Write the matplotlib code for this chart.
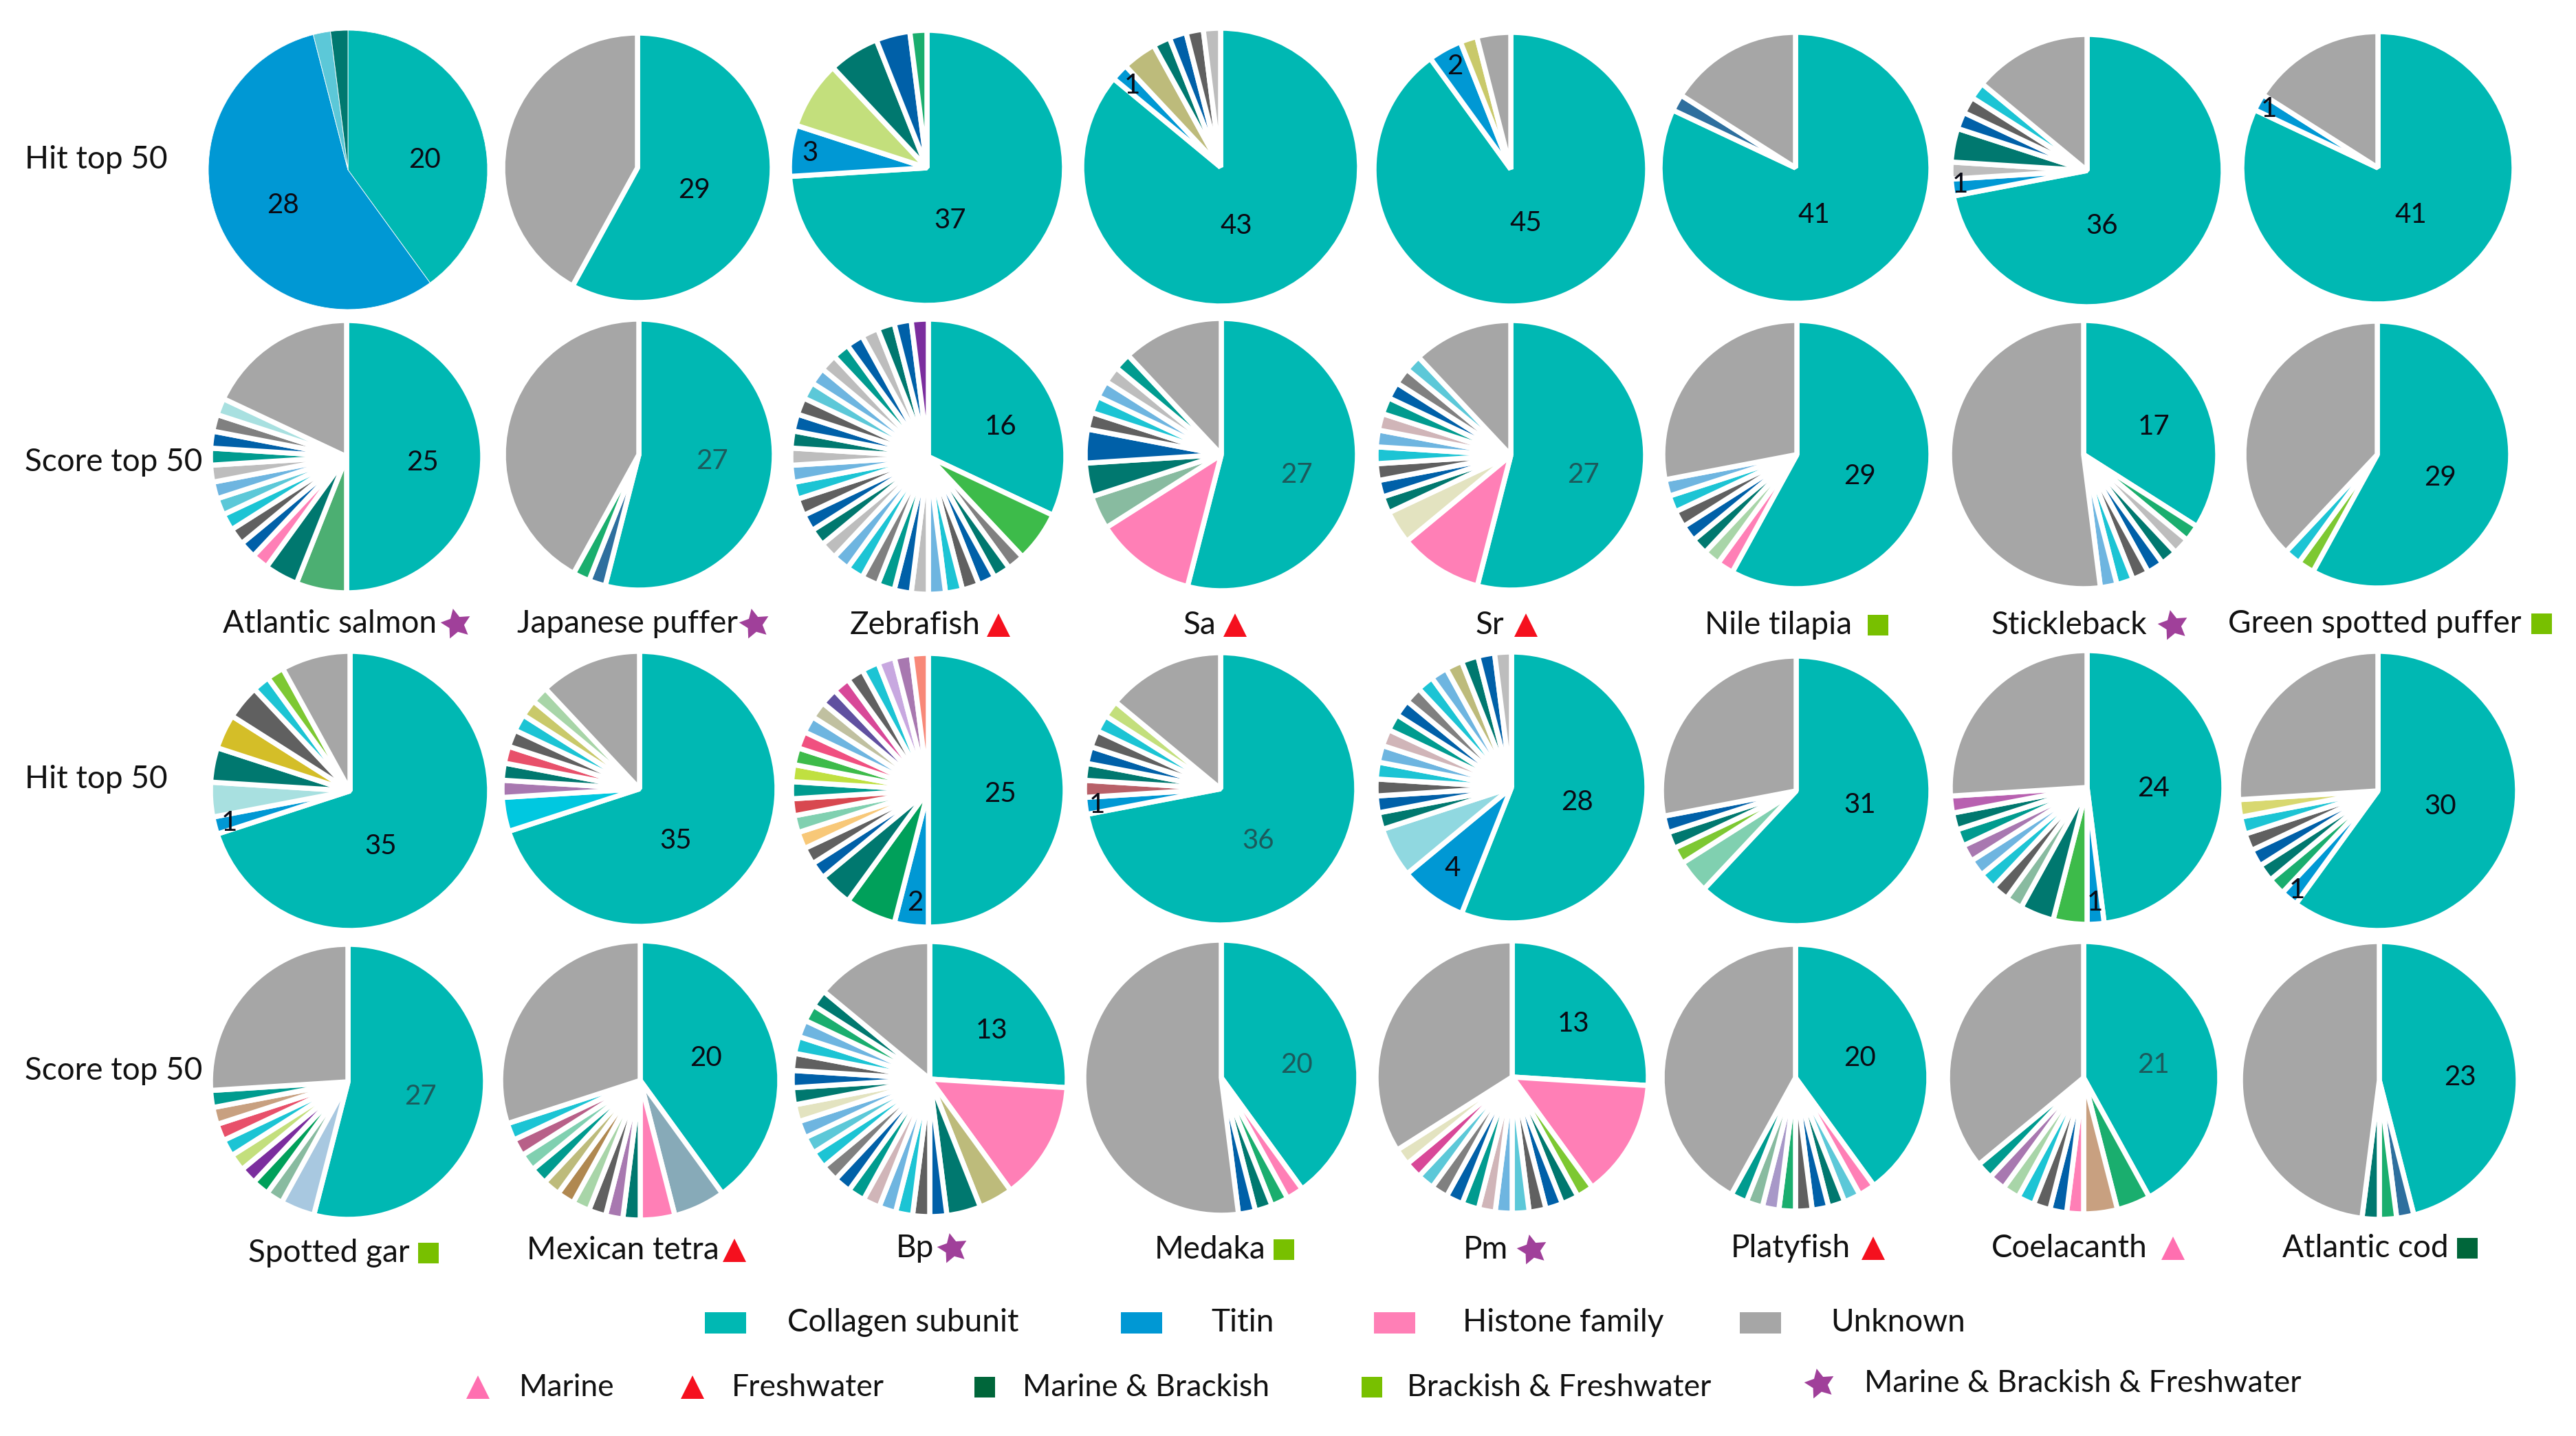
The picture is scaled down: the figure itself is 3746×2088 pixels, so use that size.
import matplotlib
matplotlib.use('Agg')
import matplotlib.pyplot as plt

W, H = 3746, 2088
plt.rcParams['font.family'] = ['Lato', 'DejaVu Sans']

# kleuren per letter
palette = {
    'T': '#00B8B3', 'B': '#0098D4', 'P': '#FF7FB6', 'U': '#A6A6A6',
    'd': '#00786F', 'b': '#0060A8', 'g': '#606060', 'c': '#1CC4D4',
    'l': '#6EB5E0', 's': '#BDBDBD', 't': '#009B8F', 'm': '#808080',
    'a': '#A8E0E0', 'q': '#5CC8D8', 'n': '#1AAE6E', 'e': '#C3DF7C',
    'k': '#BDBB7B', 'y': '#C9C96A', 'h': '#2E6F9E', 'G': '#3DBB4A',
    'S': '#4CAF72', 'v': '#7B2D9E', 'r': '#D0B5B8', 'w': '#88BBA0',
    'i': '#E3E3C0', 'f': '#A8D5A8', 'M': '#D4BE28', 'o': '#F8C878',
    'R': '#D84850', 'Y': '#C0E040', 'E': '#F05080', 'K': '#C0C0A0',
    'I': '#6050A0', 'A': '#D84898', 'L': '#C8A8E0', 'V': '#A878B0',
    'N': '#F88878', 'D': '#00A05A', 'C': '#00C8E0', 'X': '#90D8E0',
    'W': '#80D0B0', 'J': '#7DC832', 'O': '#B86068', 'Q': '#B860B0',
    'H': '#D8D870', 'Z': '#87AAB8', 'F': '#C8A080', 'x': '#B08850',
    'z': '#B86088', 'j': '#A898C8', 'p': '#E8506A', 'u': '#A8C8E0',
}

# rij 1: hit top 50
salmon_hit = [20, 28, 1, 1]
puffer_hit = [29, 21]
zebra_hit = [37, 3, 4, 3, 2, 1]
sa_hit = [43, 1, 2, 1, 1, 1, 1]
sr_hit = [45, 2, 1, 2]
tilapia_hit = [41, 1, 8]
stickle_hit = [36, 1, 1, 2, 1, 1, 1, 7]
green_hit = [41, 1, 8]
row1_colors = ['TBqd', 'TU', 'TBedbn', 'TBkdbgs', 'TByU', 'ThU', 'TBsdbgcU', 'TBU']

# rij 2: score top 50
salmon_score = [25, 3, 2, 1, 1, 1, 1, 1, 1, 1, 1, 1, 1, 1, 9]
puffer_score = [27, 1, 1, 21]
zebra_score = [16, 3] + [1] * 31
sa_score = [27, 6, 2, 2, 2, 1, 1, 1, 1, 1, 6]
sr_score = [27, 5, 2, 1, 1, 1, 1, 1, 1, 1, 1, 1, 1, 6]
tilapia_score = [29, 1, 1, 1, 1, 1, 1, 1, 14]
stickle_score = [17, 1, 1, 1, 1, 1, 1, 1, 26]
green_score = [29, 1, 1, 19]
row2_colors = ['TSdPbgcqlstbmaU', 'ThnU', 'TGmdbgclsbtmclsdbgclsdbgqlstbsdbv',
               'TPwdbgclstU', 'TPidbgclrtbmqU', 'TPfdbgclU', 'TnsdbgclU', 'TJcU']

# rij 3: hit top 50
gar_hit = [35, 1, 2, 2, 2, 2, 1, 1, 4]
tetra_hit = [35, 2, 1, 1, 1, 1, 1, 1, 1, 6]
bp_hit = [25, 2, 3, 2] + [1] * 18
medaka_hit = [36, 1, 1, 1, 1, 1, 1, 1, 7]
pm_hit = [28, 4, 3] + [1] * 14 + [1]
platy_hit = [31, 2, 1, 1, 1, 14]
coel_hit = [24, 1, 2, 2, 1, 1, 1, 1, 1, 1, 1, 1, 13]
cod_hit = [30, 1, 1, 1, 1, 1, 1, 1, 13]
row3_colors = ['TBadMgcJU', 'TCVdpgcyfU', 'TBDdbgoWRtYGElKIAgcLVN', 'TBOdbgceU',
               'TBXdbgclrtbmclkdbs', 'TWJdbU', 'TBGdwgclVtdQU', 'TBndbgcHU']

# rij 4: score top 50
gar_score = [27, 2, 1, 1, 1, 1, 1, 1, 1, 1, 13]
tetra_score = [20, 3, 2, 1, 1, 1, 1, 1, 1, 1, 1, 1, 1, 15]
bp_score = [13, 7, 2, 2] + [1] * 19 + [7]
medaka_score = [20, 1, 1, 1, 1, 26]
pm_score = [13, 7] + [1] * 13 + [17]
platy_score = [20] + [1] * 9 + [21]
coel_score = [21, 2, 2, 1, 1, 1, 1, 1, 1, 1, 18]
cod_score = [23, 1, 1, 1, 24]
row4_colors = ['TuwDvecpFtU', 'TZPdVgfxktWzcU', 'TPkdbgclrtbmcqlidbgclndU', 'TPndbU',
               'TPJdbgqlrtbmqAiU', 'TPqdbgnjwtU', 'TnFPbgcfVtU', 'ThndU']

all_values = [
    salmon_hit, puffer_hit, zebra_hit, sa_hit, sr_hit, tilapia_hit, stickle_hit, green_hit,
    salmon_score, puffer_score, zebra_score, sa_score, sr_score, tilapia_score, stickle_score, green_score,
    gar_hit, tetra_hit, bp_hit, medaka_hit, pm_hit, platy_hit, coel_hit, cod_hit,
    gar_score, tetra_score, bp_score, medaka_score, pm_score, platy_score, coel_score, cod_score,
]
all_colors = row1_colors + row2_colors + row3_colors + row4_colors

# midden en straal van elke taart, in pixels
pie_x = [506, 927, 1348, 1775, 2197, 2611, 3035, 3458,
         504, 929, 1350, 1776, 2197, 2613, 3030, 3457,
         509, 930, 1350, 1775, 2198, 2612, 3035, 3458,
         506, 931, 1352, 1776, 2199, 2611, 3030, 3460]
pie_y = [247, 244, 244, 243, 246, 244, 248, 244,
         664, 661, 664, 661, 662, 661, 661, 661,
         1150, 1147, 1149, 1147, 1145, 1150, 1145, 1150,
         1573, 1571, 1569, 1567, 1566, 1567, 1567, 1571]
pie_r = [200, 193, 197, 199, 196, 194, 195, 195,
         195, 194, 197, 195, 193, 192, 192, 191,
         200, 197, 196, 195, 194, 193, 196, 200,
         197, 200, 197, 197, 195, 191, 195, 199]

# getallen in de taarten
label_text = ['20', '28', '29', '37', '3', '43', '1', '45', '2', '41', '36', '1', '41', '1',
              '25', '27', '16', '27', '27', '29', '17', '29',
              '35', '1', '35', '25', '2', '36', '1', '28', '4', '31', '24', '1', '30', '1',
              '27', '20', '13', '20', '13', '20', '21', '23']
label_x = [618, 412, 1010, 1382, 1178, 1798, 1646, 2219, 2116, 2638, 3057, 2850, 3506, 3299,
           615, 1036, 1455, 1886, 2303, 2705, 3132, 3549,
           554, 333, 983, 1455, 1331, 1830, 1595, 2294, 2112, 2705, 3132, 3046, 3549, 3340,
           612, 1027, 1442, 1886, 2288, 2705, 3132, 3577]
label_y = [232, 298, 276, 321, 223, 328, 124, 324, 96, 312, 329, 268, 312, 158,
           672, 670, 620, 691, 691, 693, 621, 694,
           1231, 1197, 1223, 1154, 1313, 1223, 1171, 1166, 1263, 1171, 1147, 1313, 1172, 1294,
           1595, 1538, 1498, 1548, 1488, 1538, 1549, 1566]
dim_labels = [(1036, 670), (1886, 691), (2303, 691), (1830, 1223), (612, 1595), (1886, 1548), (3132, 1549)]

row_names = ['Hit top 50', 'Score top 50', 'Hit top 50', 'Score top 50']
row_name_y = [232, 672, 1133, 1557]

species = ['Atlantic salmon', 'Japanese puffer', 'Zebrafish', 'Sa', 'Sr', 'Nile tilapia', 'Stickleback',
           'Green spotted puffer', 'Spotted gar', 'Mexican tetra', 'Bp', 'Medaka', 'Pm', 'Platyfish',
           'Coelacanth', 'Atlantic cod']
species_habitat = ['mbf', 'mbf', 'f', 'f', 'f', 'bf', 'mbf', 'bf', 'bf', 'f', 'mbf', 'bf', 'mbf', 'f', 'm', 'mb']
species_x = [324, 752, 1236, 1721, 2146, 2479, 2896, 3240, 361, 766, 1303, 1679, 2128, 2517, 2896, 3319]
species_y = [907, 907, 909, 909, 909, 909, 909, 907, 1822, 1818, 1815, 1817, 1817, 1815, 1815, 1815]
marker_x = [663, 1097, 1452, 1796, 2219, 2731, 3160, 3696, 623, 1068, 1385, 1867, 2228, 2724, 3160, 3588]

# legenda
gene_names = ['Collagen subunit', 'Titin', 'Histone family', 'Unknown']
gene_keys = ['T', 'B', 'P', 'U']
gene_box_x = [1025, 1630, 1998, 2530]
gene_text_x = [1145, 1761, 2127, 2662]
habitat_names = ['Marine', 'Freshwater', 'Marine & Brackish', 'Brackish & Freshwater', 'Marine & Brackish & Freshwater']
habitat_keys = ['m', 'f', 'mb', 'bf', 'mbf']
habitat_marker_x = [695, 1007, 1432, 1995, 2646]
habitat_text_x = [755, 1064, 1487, 2046, 2711]
habitat_y = [2017, 2017, 2017, 2017, 2012]

habitat_style = {
    'm': ('^', '#FF6FB0', 24),
    'f': ('^', '#F5101E', 24),
    'mb': ('s', '#00663A', 21),
    'bf': ('s', '#78C000', 21),
    'mbf': ((5, 1, 12), '#A0409A', 33),
}

fig = plt.figure(figsize=(W / 100, H / 100), dpi=100, facecolor='white')

for i, values in enumerate(all_values):
    cx, cy, r = pie_x[i], pie_y[i], pie_r[i]
    r = r + 3
    ax = fig.add_axes([(cx - r) / W, 1 - (cy + r) / H, 2 * r / W, 2 * r / H])
    lw = 0.6 if i == 0 else 5.4
    ax.pie(values, colors=[palette[k] for k in all_colors[i]], startangle=90, counterclock=False,
           radius=1, wedgeprops={'edgecolor': 'white', 'linewidth': lw, 'joinstyle': 'bevel'})
    ax.set_xlim(-1, 1)
    ax.set_ylim(-1, 1)

# alle tekst en symbolen op een laag in pixels
top = fig.add_axes([0, 0, 1, 1], zorder=5)
top.set_xlim(0, W)
top.set_ylim(H, 0)
top.axis('off')

for txt, x, y in zip(label_text, label_x, label_y):
    col = '#1C5A5C' if (x, y) in dim_labels else '#0A0A14'
    top.text(x, y, txt, ha='center', va='center', fontsize=29, color=col)

for name, y in zip(row_names, row_name_y):
    top.text(36, y, name, ha='left', va='center', fontsize=33, color='#111111')

for name, hab, x, y, mx in zip(species, species_habitat, species_x, species_y, marker_x):
    top.text(x, y, name, ha='left', va='center', fontsize=33, color='#111111')
    marker, col, ms = habitat_style[hab]
    top.plot([mx], [y], marker=marker, color=col, ms=ms, mew=0, ls='none')

for name, key, bx, tx in zip(gene_names, gene_keys, gene_box_x, gene_text_x):
    top.bar(bx + 30, 31, width=60, bottom=1908, color=palette[key], lw=0)
    top.text(tx, 1923, name, ha='left', va='center', fontsize=33, color='#111111')

for name, key, mx, tx, y in zip(habitat_names, habitat_keys, habitat_marker_x, habitat_text_x, habitat_y):
    marker, col, ms = habitat_style[key]
    top.plot([mx], [y], marker=marker, color=col, ms=ms, mew=0, ls='none')
    top.text(tx, y, name, ha='left', va='center', fontsize=32, color='#111111')

top.set_xlim(0, W)
top.set_ylim(H, 0)
fig.savefig('out.png', dpi=100)
